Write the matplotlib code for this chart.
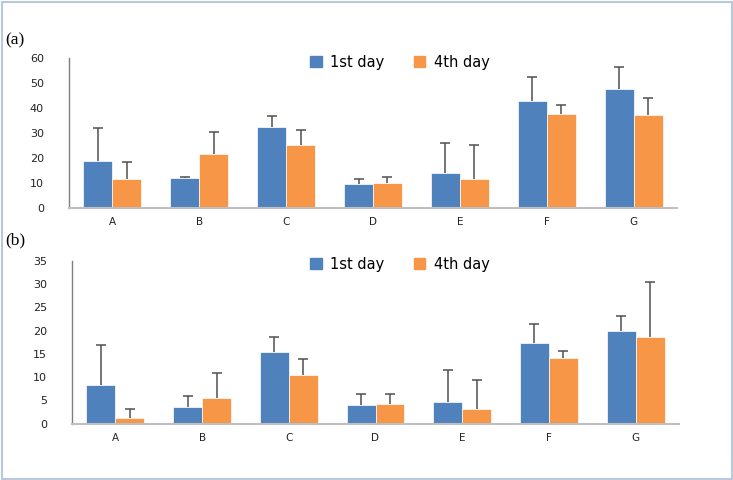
import matplotlib
matplotlib.use("Agg")
import matplotlib.pyplot as plt
from matplotlib.patches import Rectangle
import numpy as np

categories = ["A", "B", "C", "D", "E", "F", "G"]
series_names = ["1st day", "4th day"]

a_day1 = [18.6, 11.8, 32.3, 9.4, 13.9, 42.6, 47.4]
a_day1_err = [13.4, 0.3, 4.5, 1.9, 12.1, 9.7, 8.9]
a_day4 = [11.3, 21.4, 24.9, 9.8, 11.4, 37.3, 36.9]
a_day4_err = [6.8, 9.0, 6.3, 2.3, 13.6, 3.9, 6.9]

b_day1 = [8.4, 3.6, 15.4, 3.95, 4.7, 17.4, 19.9]
b_day1_err = [8.6, 2.4, 3.2, 2.35, 6.8, 4.1, 3.3]
b_day4 = [1.3, 5.5, 10.5, 4.2, 3.2, 14.1, 18.6]
b_day4_err = [1.8, 5.4, 3.5, 2.1, 6.1, 1.6, 11.8]

a_ticks = [0, 10, 20, 30, 40, 50, 60]
b_ticks = [0, 5, 10, 15, 20, 25, 30, 35]

BLUE = "#4F81BD"
ORANGE = "#F79646"
ERR = "#505050"
W, H = 733, 480

fig = plt.figure(figsize=(W / 100, H / 100), dpi=100)
fig.patch.set_facecolor("white")

# outer border
fig.add_artist(Rectangle((1.5 / W, 1.5 / H), (W - 3) / W, (H - 3) / H,
                         transform=fig.transFigure, fill=False,
                         edgecolor="#B9C9DA", linewidth=1.5))


def panel(rect, d1, e1, d4, e4, ticks, ymax, label, label_y, leg_y):
    l, t, r, b = rect
    ax = fig.add_axes([l / W, 1 - b / H, (r - l) / W, (b - t) / H])
    x = np.arange(len(categories))
    w = 1 / 3
    for vals, errs, col, off in [(d1, e1, BLUE, -w / 2), (d4, e4, ORANGE, w / 2)]:
        vals = np.asarray(vals)
        tops = vals + np.asarray(errs)
        ax.bar(x + off, vals, w, color=col, edgecolor="white", linewidth=0.5, zorder=2)
        ax.vlines(x + off, vals, tops, color=ERR, linewidth=1.1, zorder=3)
        ax.plot(x + off, tops, linestyle="none", marker="_", markersize=7,
                markeredgewidth=1.1, color=ERR, zorder=3)
    ax.set_xlim(-0.5, len(categories) - 0.5)
    ax.set_ylim(0, ymax)
    ax.set_yticks(ticks)
    ax.set_xticks(x)
    ax.set_xticklabels(categories)
    for s in ["top", "right"]:
        ax.spines[s].set_visible(False)
    ax.spines["left"].set_color("#7F7F7F")
    ax.spines["bottom"].set_color("#BFBFBF")
    ax.spines["left"].set_linewidth(1.0)
    ax.spines["bottom"].set_linewidth(1.5)
    ax.tick_params(axis="y", length=0, labelsize=8, colors="#222222", pad=18)
    ax.tick_params(axis="x", length=0, labelsize=7.5, colors="#222222", pad=7)
    ax.set_facecolor("none")
    # legend
    handles = [Rectangle((0, 0), 1, 1, color=BLUE), Rectangle((0, 0), 1, 1, color=ORANGE)]
    fig.legend(handles, series_names, loc="center", bbox_to_anchor=(400 / W, 1 - leg_y / H),
               ncol=2, frameon=False, fontsize=10.5, handlelength=0.8, handleheight=0.7,
               handletextpad=0.6, columnspacing=2.0)
    fig.text(5 / W, 1 - label_y / H, label, family="Liberation Serif", fontsize=12.5,
             va="center", ha="left")
    return ax


panel((69, 57.5, 677, 207.7), a_day1, a_day1_err, a_day4, a_day4_err, a_ticks, 60,
      "(a)", 40, 62)
panel((72, 261, 679, 423.7), b_day1, b_day1_err, b_day4, b_day4_err, b_ticks, 35,
      "(b)", 240, 264)

fig.savefig("out.png", dpi=100)
